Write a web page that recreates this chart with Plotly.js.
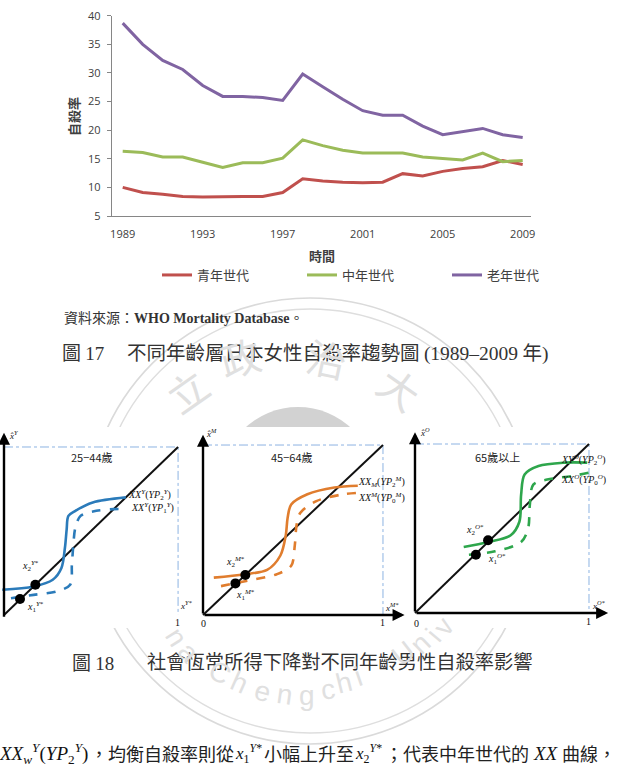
<!DOCTYPE html>
<html><head><meta charset="utf-8">
<script src="https://cdn.plot.ly/plotly-3.0.1.min.js"></script>
<style>html,body{margin:0;padding:0;background:#fff}#chart{width:618px;height:775px}</style>
</head><body><div id="chart"></div>
<script>
// ---------- Figure 17 data ----------
const years = [1989,1990,1991,1992,1993,1994,1995,1996,1997,1998,1999,2000,2001,2002,2003,2004,2005,2006,2007,2008,2009];
const youth   = [10.0,9.1,8.8,8.4,8.3,8.4,8.4,8.4,9.1,11.5,11.1,10.9,10.8,10.9,12.4,12.0,12.8,13.3,13.6,14.7,14.0];
const middle  = [16.3,16.1,15.3,15.3,14.4,13.5,14.3,14.3,15.1,18.3,17.3,16.5,16.0,16.0,16.0,15.3,15.1,14.8,16.0,14.5,14.7];
const elderly = [38.7,35.0,32.2,30.6,27.8,25.9,25.9,25.7,25.2,29.8,27.6,25.4,23.4,22.6,22.6,20.7,19.2,19.7,20.3,19.2,18.7];
const seriesNames = ['青年世代','中年世代','老年世代'];
const xTickVals = [1989,1993,1997,2001,2005,2009];
const yTickVals = [5,10,15,20,25,30,35,40];

// ---------- Figure 18 sketch data (unit box coordinates) ----------
const diagX = [0,1], diagY = [0,1];
const boxX = [0,1,1], boxY = [1,1,0];
const p1SolidX = [-0.01,0.17,0.28,0.33,0.35,0.36,0.37,0.41,0.51,0.70];
const p1SolidY = [0.15,0.17,0.21,0.28,0.40,0.51,0.59,0.62,0.67,0.70];
const p1DashX  = [0.04,0.17,0.30,0.38,0.39,0.40,0.41,0.44,0.53,0.63,0.70];
const p1DashY  = [0.10,0.12,0.14,0.18,0.30,0.44,0.52,0.59,0.62,0.63,0.63];
const p1DotX = [0.18,0.092], p1DotY = [0.18,0.095];
const p2SolidX = [0.06,0.23,0.356,0.43,0.46,0.47,0.49,0.58,0.73,0.86];
const p2SolidY = [0.22,0.24,0.265,0.35,0.47,0.57,0.65,0.71,0.75,0.76];
const p2DashX  = [0.10,0.24,0.41,0.49,0.51,0.52,0.54,0.63,0.78,0.89];
const p2DashY  = [0.17,0.20,0.24,0.29,0.41,0.53,0.60,0.67,0.71,0.72];
const p2DotX = [0.235,0.18], p2DotY = [0.235,0.186];
const p3SolidX = [0.28,0.42,0.55,0.60,0.61,0.63,0.71,0.86,0.99];
const p3SolidY = [0.39,0.42,0.46,0.54,0.70,0.82,0.87,0.89,0.89];
const p3DashX  = [0.31,0.46,0.61,0.65,0.66,0.68,0.76,0.90,1.0];
const p3DashY  = [0.345,0.365,0.42,0.50,0.64,0.76,0.79,0.81,0.83];
const p3DotX = [0.42,0.35], p3DotY = [0.43,0.345];

const W = 618, H = 775;
const px = v => v / W, py = v => 1 - v / H;

const cjk = '"Noto Sans CJK TC", "Noto Sans CJK SC", sans-serif';
const serif = '"Liberation Serif", "DejaVu Serif", serif';
const sans = '"Open Sans", "Liberation Sans", sans-serif';

const colors = ['#C0504D','#9BBB59','#8064A2'];
const traces = [youth, middle, elderly].map((ys, i) => ({
  type:'scatter', mode:'lines', x: years, y: ys, name: seriesNames[i],
  line:{color: colors[i], width:3}, xaxis:'x', yaxis:'y', hoverinfo:'skip'
}));

function panel(n, sx, sy, dx, dy, dotx, doty, color){
  const xa = 'x'+n, ya = 'y'+n;
  return [
    {type:'scatter',mode:'lines',x:boxX,y:boxY,xaxis:xa,yaxis:ya,showlegend:false,
     line:{color:'#8DB3E2',width:1,dash:'dashdot'},hoverinfo:'skip'},
    {type:'scatter',mode:'lines',x:diagX,y:diagY,xaxis:xa,yaxis:ya,showlegend:false,
     line:{color:'#111',width:2},hoverinfo:'skip'},
    {type:'scatter',mode:'lines',x:sx,y:sy,xaxis:xa,yaxis:ya,showlegend:false,
     line:{color:color,width:2.6,shape:'spline',smoothing:0.9},hoverinfo:'skip'},
    {type:'scatter',mode:'lines',x:dx,y:dy,xaxis:xa,yaxis:ya,showlegend:false,
     line:{color:color,width:2.6,dash:'dash',shape:'spline',smoothing:0.9},hoverinfo:'skip'},
    {type:'scatter',mode:'markers',x:dotx,y:doty,xaxis:xa,yaxis:ya,showlegend:false,
     marker:{color:'#000',size:10},hoverinfo:'skip'}
  ];
}
traces.push(...panel(2,p1SolidX,p1SolidY,p1DashX,p1DashY,p1DotX,p1DotY,'#2B7BBA'));
traces.push(...panel(3,p2SolidX,p2SolidY,p2DashX,p2DashY,p2DotX,p2DotY,'#E07D2E'));
traces.push(...panel(4,p3SolidX,p3SolidY,p3DashX,p3DashY,p3DotX,p3DotY,'#2EA64C'));

const hidden = {visible:true, showline:false, showgrid:false, zeroline:false, showticklabels:false, ticks:'', fixedrange:true};

const ann = [];
const P = (o) => ann.push(Object.assign({xref:'paper', yref:'paper', showarrow:false, xanchor:'center', yanchor:'middle'}, o));
// chart axis titles
P({text:'自殺率', x:px(73), y:py(117), textangle:-90, font:{family:cjk,size:13,color:'#404040',weight:'bold'}});
P({text:'時間', x:px(322), y:py(255), font:{family:cjk,size:13,color:'#404040',weight:'bold'}});

// captions
P({text:'資料來源：<span style="font-family:\'Liberation Serif\';font-weight:bold">WHO Mortality Database</span>。',
  x:px(62), y:py(317), xanchor:'left', font:{family:cjk,size:14,color:'#333'}});
P({text:'圖 <span style="font-family:\'Liberation Serif\'">17</span>', x:px(60), y:py(351), xanchor:'left',
  font:{family:cjk,size:19,color:'#333'}});
P({text:'不同年齡層日本女性自殺率趨勢圖 <span style="font-family:\'Liberation Serif\'">(1989–2009</span> 年<span style="font-family:\'Liberation Serif\'">)</span>',
  x:px(125), y:py(351), xanchor:'left', font:{family:cjk,size:19.5,color:'#333'}});
P({text:'圖 <span style="font-family:\'Liberation Serif\'">18</span>', x:px(70), y:py(661), xanchor:'left',
  font:{family:cjk,size:19,color:'#333'}});
P({text:'社會恆常所得下降對不同年齡男性自殺率影響', x:px(145), y:py(661), xanchor:'left',
  font:{family:cjk,size:19.3,color:'#333'}});

// bottom text line
const mathFont = {family:serif, size:19, color:'#111'};
const smallMath = {family:serif, size:17, color:'#111'};
const bodyFont = {family:cjk, size:18, color:'#222'};
P({text:'<i>XX</i><sub><i>w</i></sub><sup><i>Y</i></sup>(<i>YP</i><sub>2</sub><sup><i>Y</i></sup>)', x:px(-3), y:py(753), xanchor:'left', font:mathFont});
P({text:'，均衡自殺率則從', x:px(88), y:py(753), xanchor:'left', font:bodyFont});
P({text:'<i>x</i><sub>1</sub><sup><i>Y</i>*</sup>', x:px(233), y:py(753), xanchor:'left', font:smallMath});
P({text:'小幅上升至', x:px(262), y:py(753), xanchor:'left', font:bodyFont});
P({text:'<i>x</i><sub>2</sub><sup><i>Y</i>*</sup>', x:px(353), y:py(753), xanchor:'left', font:smallMath});
P({text:'；代表中年世代的', x:px(383), y:py(753), xanchor:'left', font:bodyFont});
P({text:'<i>XX</i>', x:px(531), y:py(753), xanchor:'left', font:mathFont});
P({text:'曲線，', x:px(560), y:py(753), xanchor:'left', font:bodyFont});

// watermark text
const wm = '#e0e0e0';
[['立',187,390,-35],['政',240,357,-15],['治',327,358,12],['大',400,388,35]].forEach(t=>{
  P({text:t[0], x:px(t[1]), y:py(t[2]), textangle:t[3], font:{family:cjk,size:40,color:wm}});
});
[['n',177,637,58],['a',189,652,48],['C',220,672,31],['h',240,682,24],['e',263,691,15],['n',285,694,8],['g',307,695,0],
 ['c',328,689,-7],['h',344,682,-14],['i',358,676,-19],['U',403,653,-38],['n',420,643,-44],['i',433,635,-50],['v',443,626,-55]].forEach(t=>{
  P({text:t[0], x:px(t[1]), y:py(t[2]), textangle:t[3], font:{family:'"Liberation Sans", sans-serif',size:28,color:wm}});
});

// panel decorations
const lab = (n, text, x, y, opts={}) => ann.push(Object.assign({text, xref:'x'+n, yref:'y'+n, x, y, showarrow:false,
  xanchor:'center', yanchor:'middle', font:{family:serif,size:10,color:'#111'}}, opts));
const arrow = (n, x, y, ax, ay) => ann.push({text:'', xref:'x'+n, yref:'y'+n, axref:'x'+n, ayref:'y'+n, x, y, ax, ay,
  showarrow:true, arrowhead:2, arrowsize:1, arrowwidth:2.4, arrowcolor:'#000', standoff:0, startstandoff:0});

arrow(2, 1.155, 0, -0.03, 0); arrow(2, 0, 1.085, 0, -0.02);
lab(2,'25−44歲',0.506,0.94,{font:{family:cjk,size:11,color:'#222'}});
lab(2,'<i>XX<sup>Y</sup></i>(<i>YP</i><sub>2</sub><sup><i>Y</i></sup>)',0.70,0.715,{xanchor:'left'});
lab(2,'<i>XX<sup>Y</sup></i>(<i>YP</i><sub>1</sub><sup><i>Y</i></sup>)',0.72,0.635,{xanchor:'left'});
lab(2,'<i>x</i><sub>2</sub><sup><i>Y</i>*</sup>',0.15,0.29);
lab(2,'<i>x</i><sub>1</sub><sup><i>Y</i>*</sup>',0.18,0.05);
lab(2,'<i>x̂<sup>Y</sup></i>',0.06,1.07,{font:{family:serif,size:9,color:'#111'}});
lab(2,'<i>x<sup>Y*</sup></i>',1.05,0.06,{font:{family:serif,size:9,color:'#111'}});
lab(2,'1',0.995,-0.045);
arrow(3, 1.12, 0, 0, 0); arrow(3, 0, 1.06, 0, 0);
lab(3,'45−64歲',0.494,0.93,{font:{family:cjk,size:11,color:'#222'}});
lab(3,'<i>XX</i><sub><i>M</i></sub>(<i>YP</i><sub>2</sub><sup><i>M</i></sup>)',0.85,0.78,{xanchor:'left'});
lab(3,'<i>XX<sup>M</sup></i>(<i>YP</i><sub>0</sub><sup><i>M</i></sup>)',0.85,0.69,{xanchor:'left'});
lab(3,'<i>x</i><sub>2</sub><sup><i>M</i>*</sup>',0.18,0.31);
lab(3,'<i>x</i><sub>1</sub><sup><i>M</i>*</sup>',0.235,0.115);
lab(3,'<i>x̂<sup>M</sup></i>',0.045,1.07,{font:{family:serif,size:9,color:'#111'}});
lab(3,'<i>x<sup>M*</sup></i>',1.05,0.05,{font:{family:serif,size:9,color:'#111'}});
lab(3,'0',0.005,-0.05); lab(3,'1',1.0,-0.045);
arrow(4, 1.11, 0, 0, 0); arrow(4, 0, 1.07, 0, 0);
lab(4,'65歲以上',0.477,0.923,{font:{family:cjk,size:11,color:'#222'}});
lab(4,'<i>XY<sup>O</sup></i>(<i>YP</i><sub>2</sub><sup><i>O</i></sup>)',0.83,0.905,{xanchor:'left'});
lab(4,'<i>XX<sup>O</sup></i>(<i>YP</i><sub>0</sub><sup><i>O</i></sup>)',0.83,0.787,{xanchor:'left'});
lab(4,'<i>x</i><sub>2</sub><sup><i>O</i>*</sup>',0.345,0.49);
lab(4,'<i>x</i><sub>1</sub><sup><i>O</i>*</sup>',0.47,0.32);
lab(4,'<i>x̂<sup>O</sup></i>',0.06,1.07,{font:{family:serif,size:9,color:'#111'}});
lab(4,'<i>x<sup>O*</sup></i>',1.06,0.05,{font:{family:serif,size:9,color:'#111'}});
lab(4,'0',0.01,-0.06); lab(4,'1',1.0,-0.05);

const shapes = [
  {type:'circle', xref:'paper', yref:'paper', x0:px(87), x1:px(533), y0:py(744), y1:py(298), line:{color:'#dadada',width:1.6}, layer:'below'},
  {type:'circle', xref:'paper', yref:'paper', x0:px(98), x1:px(522), y0:py(733), y1:py(309), line:{color:'#dedede',width:1.4}, layer:'below'},
  {type:'circle', xref:'paper', yref:'paper', x0:px(220), x1:px(376), y0:py(563), y1:py(407), fillcolor:'#d2d2d2', line:{width:0}, layer:'below'},
  {type:'rect', xref:'paper', yref:'paper', x0:0, x1:1, y0:py(628), y1:py(427), fillcolor:'#ffffff', line:{width:0}, layer:'below'}
];

const layout = {
  width:W, height:H, margin:{l:0,r:0,t:0,b:0}, paper_bgcolor:'#fff', plot_bgcolor:'rgba(0,0,0,0)',
  showlegend:true,
  legend:{orientation:'h', x:px(157), y:py(275), xanchor:'left', yanchor:'middle', bgcolor:'rgba(0,0,0,0)',
    font:{family:cjk,size:13,color:'#404040'}, itemwidth:30, entrywidth:100, entrywidthmode:'pixels'},
  xaxis:{domain:[px(111.7),px(530.7)], range:[1988.45,2009.4], tickvals:xTickVals, ticktext:xTickVals.map(String),
    showline:true, linecolor:'#868686', linewidth:1, ticks:'', showgrid:false, zeroline:false, anchor:'y',
    tickfont:{family:sans,size:11,color:'#404040'}, ticklabelstandoff:8, fixedrange:true},
  yaxis:{domain:[py(216), py(15.7)], range:[5,40], tickvals:yTickVals, showline:true, linecolor:'#868686', linewidth:1,
    ticks:'outside', ticklen:4, tickcolor:'#868686', showgrid:false, zeroline:false, anchor:'x',
    tickfont:{family:sans,size:11,color:'#404040'}, ticklabelstandoff:4, fixedrange:true},
  xaxis2:Object.assign({domain:[0,px(200)], range:[-0.023,1.126], anchor:'y2'}, hidden),
  yaxis2:Object.assign({domain:[py(628),py(427)], range:[-0.0774,1.119], anchor:'x2'}, hidden),
  xaxis3:Object.assign({domain:[px(200),px(408)], range:[-0.0167,1.139], anchor:'y3'}, hidden),
  yaxis3:Object.assign({domain:[py(628),py(427)], range:[-0.0765,1.106], anchor:'x3'}, hidden),
  xaxis4:Object.assign({domain:[px(408),1], range:[-0.0402,1.1667], anchor:'y4'}, hidden),
  yaxis4:Object.assign({domain:[py(628),py(427)], range:[-0.0888,1.1006], anchor:'x4'}, hidden),
  annotations:ann, shapes:shapes
};
Plotly.newPlot('chart', traces, layout, {staticPlot:true, displayModeBar:false});
</script></body></html>
